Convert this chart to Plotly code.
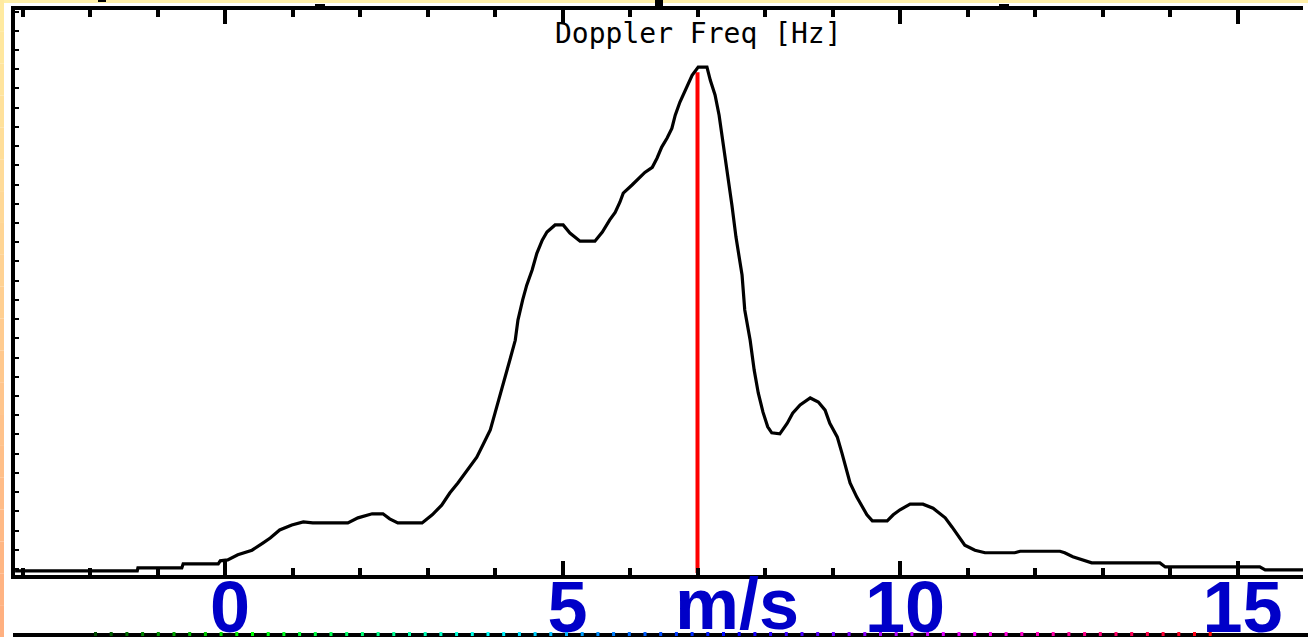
import colorsys
import plotly.graph_objects as go

# ---------------- data ----------------
velocity = [-3.11, -1.30, -1.29, -0.64, -0.62, -0.10, -0.07, 0.04, 0.19, 0.40, 0.56, 0.67,
            0.81, 0.99, 1.16, 1.30, 1.82, 1.97, 2.18, 2.34, 2.44, 2.56, 2.92, 3.07, 3.21,
            3.33, 3.45, 3.60, 3.73, 3.82, 3.93, 4.00, 4.07, 4.15, 4.22, 4.30, 4.34, 4.41,
            4.47, 4.55, 4.62, 4.70, 4.77, 4.89, 5.01, 5.11, 5.26, 5.48, 5.59, 5.70, 5.78,
            5.85, 5.90, 6.03, 6.15, 6.22, 6.33, 6.40, 6.47, 6.55, 6.62, 6.67, 6.74, 6.81,
            6.86, 6.92, 7.01, 7.14, 7.19, 7.26, 7.32, 7.38, 7.45, 7.51, 7.57, 7.66, 7.70,
            7.78, 7.84, 7.90, 7.97, 8.04, 8.10, 8.22, 8.33, 8.41, 8.52, 8.67, 8.79, 8.89,
            8.96, 9.07, 9.14, 9.21, 9.26, 9.36, 9.44, 9.51, 9.59, 9.81, 9.90, 10.00, 10.15,
            10.34, 10.49, 10.67, 10.77, 10.86, 10.96, 11.11, 11.26, 11.70, 11.78, 12.37,
            12.44, 12.56, 12.70, 12.84, 13.85, 13.93, 15.33, 15.41, 15.97]
power = [0.4, 0.4, 1.0, 1.0, 1.8, 1.8, 2.4, 2.6, 3.6, 4.5, 5.9, 6.9,
         8.5, 9.5, 10.1, 9.9, 9.9, 10.9, 11.7, 11.7, 10.7, 9.9, 9.9, 11.5, 13.4,
         15.8, 17.8, 20.4, 22.9, 25.3, 28.3, 31.6, 34.8, 38.7, 42.1, 46.0, 50.0, 54.0,
         56.9, 59.9, 63.2, 65.8, 67.4, 68.8, 68.8, 67.2, 65.6, 65.6, 67.4, 69.8, 71.3,
         73.3, 75.1, 76.7, 78.3, 79.2, 80.2, 82.0, 84.2, 86.0, 87.9, 90.5, 93.1, 95.1,
         96.8, 98.4, 100.0, 100.0, 97.4, 94.5, 90.5, 85.0, 79.2, 72.7, 66.4, 58.9, 52.0,
         46.0, 40.1, 35.6, 31.8, 28.9, 27.7, 27.5, 29.6, 31.6, 33.2, 34.6, 33.8, 32.2,
         29.6, 26.9, 23.7, 20.4, 17.8, 15.0, 13.0, 11.5, 10.3, 10.3, 11.5, 12.5, 13.6,
         13.6, 12.8, 10.9, 9.1, 7.5, 5.5, 4.5, 4.0, 4.0, 4.3, 4.3,
         4.0, 3.2, 2.6, 2.0, 2.0, 1.2, 1.2, 0.6, 0.6]
mean_velocity = 7.0
tick_vals = [0, 5, 10, 15]
tick_text = ["0", "5", "10", "15"]
unit_label = "m/s"
title_text = "Doppler Freq [Hz]"

# ---------------- layout geometry ----------------
W, H = 1308, 637
L, R, T, B = 15, 5, 10, 62
PW, PH = W - L - R, H - T - B


def px(x):
    return (x - L) / PW


def py(y):
    return (H - B - y) / PH


BLUE = "#0000C8"

fig = go.Figure()
fig.add_trace(go.Scatter(x=[mean_velocity, mean_velocity], y=[0, max(power) * 0.99],
                         mode="lines", line=dict(color="#FF0000", width=4),
                         hoverinfo="skip"))
fig.add_trace(go.Scatter(x=velocity, y=power, mode="lines",
                         line=dict(color="black", width=3.2)))

shapes = []
# top pale strip
shapes.append(dict(type="rect", xref="paper", yref="paper", x0=px(0), x1=px(W), y0=py(3), y1=py(0),
                   fillcolor="#FFEFA8", line=dict(width=0), layer="below"))
# left gradient strip
n = 20
c0, c1 = (255, 234, 160), (255, 176, 128)
for i in range(n):
    f = i / (n - 1)
    col = "rgb(%d,%d,%d)" % tuple(round(a + (b - a) * f) for a, b in zip(c0, c1))
    shapes.append(dict(type="rect", xref="paper", yref="paper", x0=px(0), x1=px(4),
                       y0=py(H * (i + 1) / n), y1=py(H * i / n),
                       fillcolor=col, line=dict(width=0), layer="below"))
# bottom line of the next panel with coloured ticks
shapes.append(dict(type="rect", xref="paper", yref="paper", x0=px(13), x1=px(W), y0=py(637), y1=py(633),
                   fillcolor="black", line=dict(width=0)))
xx = 94.0
while xx < 1215:
    if xx < 250:
        h, v = 120 / 360, 0.3 + 0.7 * (xx - 94) / 156
    else:
        h, v = (120 + 240 * (xx - 250) / 962) / 360 % 1.0, 1.0
    r, g, b_ = colorsys.hsv_to_rgb(h, 1.0, v)
    shapes.append(dict(type="rect", xref="paper", yref="paper", x0=px(xx), x1=px(xx + 3),
                       y0=py(636), y1=py(632),
                       fillcolor="rgb(%d,%d,%d)" % (r * 255, g * 255, b_ * 255), line=dict(width=0)))
    xx += 15.7
# small marks of the panel above
for x0, x1, y0, y1 in [(98, 106, 0, 2), (315, 325, 4, 8), (999, 1009, 4, 8), (655, 663, 0, 7)]:
    shapes.append(dict(type="rect", xref="paper", yref="paper", x0=px(x0), x1=px(x1),
                       y0=py(y1), y1=py(y0), fillcolor="black", line=dict(width=0)))

fig.update_layout(
    width=W, height=H, autosize=False,
    margin=dict(l=L, r=R, t=T, b=B, pad=0, autoexpand=False),
    paper_bgcolor="white", plot_bgcolor="white",
    showlegend=False,
    shapes=shapes,
    annotations=[
        dict(text=title_text, xref="paper", yref="paper", x=px(698), y=py(15),
             xanchor="center", yanchor="top", showarrow=False,
             font=dict(family="DejaVu Sans Mono", size=28, color="black")),
        dict(text="<b>%s</b>" % unit_label, xref="x", yref="paper", x=7.59, y=py(562),
             xanchor="center", yanchor="top", showarrow=False,
             font=dict(family="Liberation Sans, Arial", size=72, color=BLUE)),
    ],
    xaxis=dict(range=[(L - 225) / 67.5, (W - R - 225) / 67.5], automargin=False,
               tickmode="array", tickvals=tick_vals, ticktext=tick_text,
               ticks="inside", ticklen=14, tickwidth=4, tickcolor="black",
               showline=True, linewidth=4, linecolor="black", mirror="ticks",
               showgrid=False, zeroline=False, ticklabelstandoff=-33, ticklabelshift=5,
               tickfont=dict(family="Liberation Sans, Arial", size=72, color=BLUE, weight="bold"),
               minor=dict(tickmode="linear", tick0=0, dtick=1, ticks="inside", ticklen=7,
                          tickwidth=4, tickcolor="black", showgrid=False)),
    yaxis=dict(range=[-0.4, 111.3], automargin=False, showline=True, linewidth=4, linecolor="black",
               ticks="inside", ticklen=4, tickwidth=2, tickcolor="black",
               tickmode="linear", tick0=0.79, dtick=3.80,
               showticklabels=False, showgrid=False, zeroline=False),
)

fig.write_html("out.html")
